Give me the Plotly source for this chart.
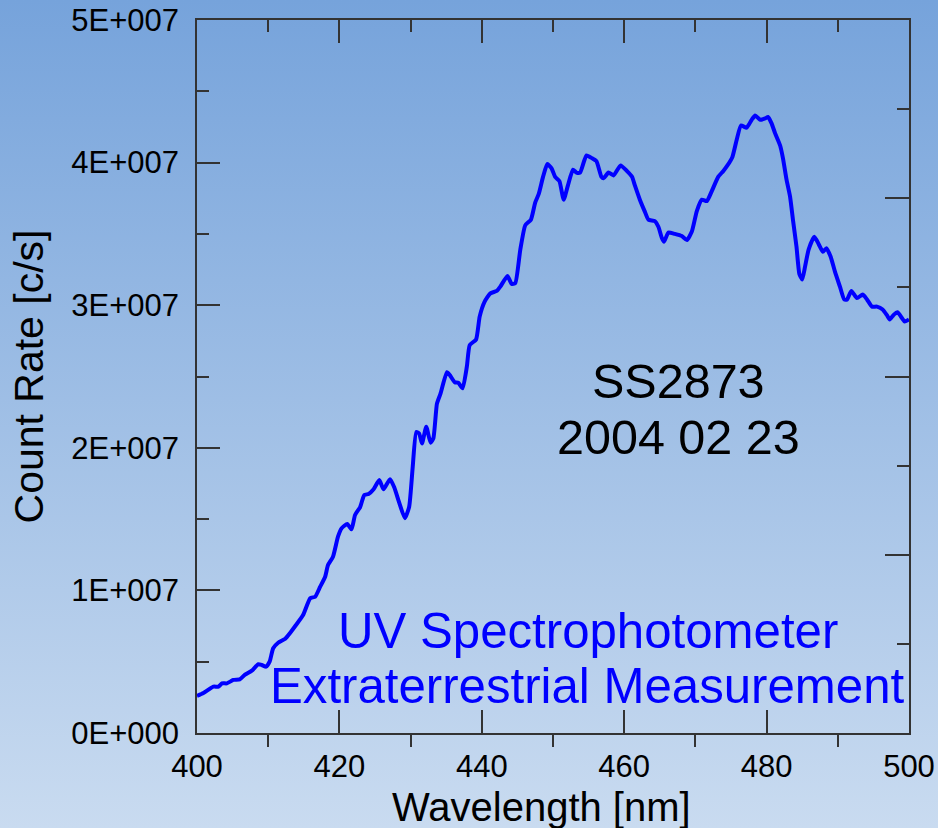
import base64
import plotly.graph_objects as go

# ---- data ----
wavelength_nm = [
    400.0, 400.9, 402.3, 403.0, 403.5, 404.2, 405.1, 406.0, 406.7, 407.7,
    408.6, 409.1, 409.7, 410.2, 410.7, 411.4, 412.4, 413.1, 413.8, 414.9,
    415.9, 416.6, 417.3, 418.0, 418.4, 419.1, 419.8, 420.3, 421.1, 421.7,
    422.2, 422.9, 423.5, 424.1, 424.8, 425.6, 426.2, 427.1, 427.7, 428.4,
    429.2, 429.8, 430.3, 430.8, 431.2, 431.6, 432.2, 432.8, 433.2, 433.7,
    434.2, 435.1, 435.5, 436.2, 436.7, 437.3, 437.9, 438.3, 439.2, 439.7,
    440.4, 441.2, 442.1, 442.6, 443.6, 444.2, 444.7, 445.4, 446.1, 446.9,
    447.5, 448.0, 448.6, 449.2, 449.8, 450.3, 450.9, 451.5, 452.1, 452.8,
    453.3, 453.8, 454.7, 455.5, 456.1, 456.8, 457.1, 457.8, 458.5, 459.5,
    460.4, 461.1, 461.5, 462.2, 462.9, 463.4, 464.3, 464.8, 465.3, 465.6,
    466.2, 467.1, 468.1, 468.8, 469.5, 470.2, 470.9, 471.6, 472.3, 473.2,
    473.9, 474.5, 475.2, 475.8, 476.4, 477.2, 477.9, 478.4, 479.1, 479.8,
    480.2, 480.7, 481.2, 481.9, 482.3, 482.8, 483.3, 483.7, 484.2, 484.6,
    485.0, 485.4, 485.9, 486.7, 487.3, 487.9, 488.4, 489.0, 489.6, 490.3,
    490.9, 491.3, 491.9, 492.7, 493.5, 494.1, 494.8, 495.5, 496.3, 496.9,
    497.3, 497.8, 498.4, 499.0, 499.4, 500.0,
]
count_rate_e7 = [
    0.26, 0.28, 0.325, 0.325, 0.348, 0.348, 0.372, 0.376, 0.407, 0.437,
    0.482, 0.477, 0.465, 0.50, 0.594, 0.633, 0.661, 0.703, 0.75, 0.827,
    0.945, 0.956, 1.026, 1.096, 1.178, 1.236, 1.377, 1.435, 1.466, 1.428,
    1.529, 1.583, 1.669, 1.676, 1.709, 1.774, 1.709, 1.779, 1.723, 1.615,
    1.506, 1.587, 1.868, 2.11, 2.10, 2.03, 2.148, 2.036, 2.067, 2.31,
    2.38, 2.53, 2.51, 2.46, 2.456, 2.417, 2.569, 2.72, 2.76, 2.92,
    3.025, 3.083, 3.10, 3.13, 3.205, 3.149, 3.154, 3.387, 3.56, 3.60,
    3.72, 3.78, 3.90, 3.99, 3.96, 3.90, 3.87, 3.74, 3.84, 3.95,
    3.93, 3.93, 4.05, 4.03, 4.01, 3.90, 3.89, 3.93, 3.91, 3.98,
    3.94, 3.90, 3.84, 3.74, 3.656, 3.60, 3.59, 3.55, 3.47, 3.445,
    3.51, 3.50, 3.485, 3.457, 3.516, 3.66, 3.74, 3.73, 3.80, 3.90,
    3.94, 3.98, 4.04, 4.16, 4.26, 4.245, 4.30, 4.33, 4.30, 4.31,
    4.32, 4.275, 4.205, 4.12, 4.03, 3.88, 3.76, 3.60, 3.41, 3.22,
    3.18, 3.27, 3.39, 3.48, 3.43, 3.375, 3.40, 3.34, 3.235, 3.13,
    3.04, 3.04, 3.10, 3.05, 3.075, 3.04, 2.99, 2.99, 2.97, 2.93,
    2.90, 2.93, 2.95, 2.91, 2.885, 2.90,
]
count_rate = [v * 1e7 for v in count_rate_e7]

x_tickvals = [400, 420, 440, 460, 480, 500]
x_ticktext = ["400", "420", "440", "460", "480", "500"]
x_minorvals = [410, 430, 450, 470, 490]
y_tickvals = [0, 1e7, 2e7, 3e7, 4e7, 5e7]
y_ticktext = ["0E+000", "1E+007", "2E+007", "3E+007", "4E+007", "5E+007"]
y_minorvals = [0.5e7, 1.5e7, 2.5e7, 3.5e7, 4.5e7]
y2_tickvals = [0, 1, 2, 3, 4]
y2_minorvals = [0.5, 1.5, 2.5, 3.5]

title_lines = ["SS2873", "2004 02 23"]
note_lines = ["UV Spectrophotometer", "Extraterrestrial Measurement"]

# ---- styling ----
W, H = 938, 828
L, R, T, B = 197, 29, 20, 95
PW, PH = W - L - R, H - T - B
FONT = "Liberation Sans, Arial, sans-serif"
AX = "#333333"

def px_x(px):
    return (px - L) / PW

def px_y(py):
    return (H - B - py) / PH

svg = (
    '<svg xmlns="http://www.w3.org/2000/svg" width="938" height="828">'
    '<defs><linearGradient id="g" x1="0" y1="0" x2="0" y2="1">'
    '<stop offset="0" stop-color="#76a3db"/>'
    '<stop offset="1" stop-color="#c9dbf0"/>'
    '</linearGradient></defs>'
    '<rect width="938" height="828" fill="url(#g)"/></svg>'
)
bg_src = "data:image/svg+xml;base64," + base64.b64encode(svg.encode()).decode()

fig = go.Figure()
fig.add_trace(go.Scatter(
    x=wavelength_nm, y=count_rate, mode="lines",
    line=dict(color="#0000ff", width=4, shape="spline", smoothing=0.5),
    hoverinfo="skip", showlegend=False,
))
# invisible trace so the mirror (top/right) axes are drawn
fig.add_trace(go.Scatter(
    x=[400], y=[0], xaxis="x2", yaxis="y2", mode="markers",
    marker=dict(opacity=0), hoverinfo="skip", showlegend=False,
))

common = dict(showgrid=False, zeroline=False, showline=True, linecolor=AX,
              linewidth=1.5, tickcolor=AX, tickwidth=1.5, ticks="inside",
              automargin=False)

fig.update_layout(
    width=W, height=H,
    margin=dict(l=L, r=R, t=T, b=B, pad=0, autoexpand=False),
    paper_bgcolor="#c9dbf0",
    plot_bgcolor="rgba(0,0,0,0)",
    font=dict(family=FONT, color="black"),
    xaxis=dict(
        range=[400, 500], tickmode="array", tickvals=x_tickvals, ticktext=x_ticktext,
        ticklen=23, tickfont=dict(size=31, family=FONT, color="black"),
        ticklabelstandoff=5,
        minor=dict(tickmode="array", tickvals=x_minorvals, ticks="outside",
                   ticklen=12, tickcolor=AX, tickwidth=1.5, showgrid=False),
        **common,
    ),
    xaxis2=dict(
        range=[400, 500], overlaying="x", side="top", tickmode="array",
        tickvals=x_tickvals, ticklen=23, showticklabels=False,
        minor=dict(tickmode="array", tickvals=x_minorvals, ticks="inside",
                   ticklen=12, tickcolor=AX, tickwidth=1.5, showgrid=False),
        **common,
    ),
    yaxis=dict(
        range=[0, 5e7], tickmode="array", tickvals=y_tickvals, ticktext=y_ticktext,
        ticklen=23, tickfont=dict(size=31, family=FONT, color="black"),
        ticklabelstandoff=10,
        title=dict(text="Count Rate [c/s]", font=dict(size=41, family=FONT, color="black"),
                   standoff=15),
        minor=dict(tickmode="array", tickvals=y_minorvals, ticks="inside",
                   ticklen=12, tickcolor=AX, tickwidth=1.5, showgrid=False),
        **common,
    ),
    yaxis2=dict(
        range=[0, 4], overlaying="y", side="right", tickmode="array",
        tickvals=y2_tickvals, ticklen=24, showticklabels=False,
        minor=dict(tickmode="array", tickvals=y2_minorvals, ticks="inside",
                   ticklen=12, tickcolor=AX, tickwidth=1.5, showgrid=False),
        **common,
    ),
    images=[dict(
        source=bg_src, xref="paper", yref="paper",
        x=-L / PW, y=(H - B) / PH, sizex=W / PW, sizey=H / PH,
        xanchor="left", yanchor="top", sizing="stretch", layer="below",
    )],
)

# x-axis title (as text below the axis)
fig.add_annotation(text="Wavelength [nm]", xref="paper", yref="paper",
                   x=px_x(541), y=px_y(807), xanchor="center", yanchor="middle",
                   borderpad=0, showarrow=False,
                   font=dict(size=40, family=FONT, color="black"))

for txt, cy in zip(title_lines, [381.2, 437.2]):
    fig.add_annotation(text=txt, xref="paper", yref="paper",
                       x=px_x(678), y=px_y(cy), xanchor="center", yanchor="middle",
                       showarrow=False, font=dict(size=48.5, family=FONT, color="black"))
for txt, cy in zip(note_lines, [630.2, 685.2]):
    fig.add_annotation(text=txt, xref="paper", yref="paper",
                       x=px_x(587.5), y=px_y(cy), xanchor="center", yanchor="middle",
                       showarrow=False, font=dict(size=49.2, family=FONT, color="#0000ff"))

fig.write_html("out.html")
